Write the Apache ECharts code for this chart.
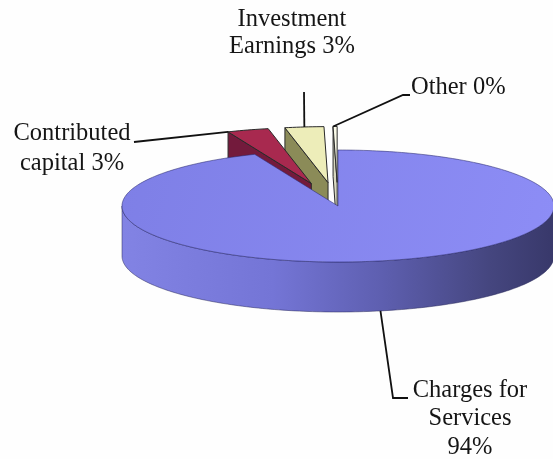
<!DOCTYPE html>
<html>
<head>
<meta charset="utf-8">
<script src="https://cdn.jsdelivr.net/npm/echarts@6/dist/echarts.min.js"></script>
<style>
html, body { margin: 0; padding: 0; background: #fff; }
#chart { width: 553px; height: 459px; }
</style>
</head>
<body>
<div id="chart"></div>
<script>
// slices, clockwise from 12 o'clock
const names = ['Charges for Services', 'Contributed capital', 'Investment Earnings', 'Other'];
const values = [93.7, 3.1, 2.9, 0.3];
const labelNames = ['Charges for\nServices', 'Contributed\ncapital', 'Investment\nEarnings', 'Other'];
const labelSep = ['\n', ' ', ' ', ' '];
const exploded = [0, 1, 1, 1];

const topColors = ['#8383ec', '#a8294f', '#ededb9', '#fafae8'];
const sideColors = ['#6f6fd0', '#731a3c', '#8b8b58', '#d8d8c0'];

// 3d pie geometry (flattened ellipse + wall)
const cx = 338, cy = 206, rx = 216, ry = 56, depth = 50, explodeBy = 0.42;

// where each label sits and how its leader line bends
const labelLayout = [
  { x: 470, y: 376, align: 'center', lh: 28.5, anchor: 'wall', elbow: [[393, 398], [408, 398]] },
  { x: 72, y: 119, align: 'center', lh: 30, anchor: 'start', elbow: [[134, 142]] },
  { x: 292, y: 6, align: 'center', lh: 27, anchor: 'mid', elbow: [[304, 92]] },
  { x: 411, y: 74, align: 'left', lh: 28, anchor: 'start', elbow: [[403, 95], [410, 95]] }
];

const total = values.reduce((a, b) => a + b, 0);
const slices = [];
let acc = 0;
values.forEach((v, i) => {
  const a0 = acc / total * 2 * Math.PI;
  acc += v;
  const a1 = acc / total * 2 * Math.PI;
  const mid = (a0 + a1) / 2;
  slices.push({
    a0, a1, mid,
    ox: exploded[i] ? explodeBy * rx * Math.sin(mid) : 0,
    oy: exploded[i] ? -explodeBy * ry * Math.cos(mid) : 0,
    pct: Math.round(v / total * 100)
  });
});

function pt(s, a, dy) {
  return [cx + s.ox + rx * Math.sin(a), cy + s.oy - ry * Math.cos(a) + (dy || 0)];
}
function arc(s, from, to, dy) {
  const n = Math.max(2, Math.ceil(Math.abs(to - from) / 0.02));
  const out = [];
  for (let k = 0; k <= n; k++) out.push(pt(s, from + (to - from) * k / n, dy));
  return out;
}

function renderItem(params, api) {
  const i = params.dataIndex;
  const s = slices[i];
  const z = Math.round((1 - Math.cos(s.mid)) * 100) * 10;
  const tip = [cx + s.ox, cy + s.oy];
  const children = [];

  // outer wall, front half only
  const w0 = Math.max(s.a0, Math.PI / 2), w1 = Math.min(s.a1, 3 * Math.PI / 2);
  if (w1 > w0) {
    children.push({
      type: 'polygon', z2: z,
      shape: { points: arc(s, w0, w1, 0).concat(arc(s, w1, w0, depth)) },
      style: {
        fill: i === 0 ? new echarts.graphic.LinearGradient(0, 0, 1, 0, [
          { offset: 0, color: '#8283e4' },
          { offset: 0.35, color: '#7475d6' },
          { offset: 0.6, color: '#5e5fb0' },
          { offset: 0.85, color: '#45467f' },
          { offset: 1, color: '#38386a' }
        ]) : sideColors[i],
        stroke: 'rgba(40,40,90,0.5)', lineWidth: 1
      }
    });
  }

  // cut faces facing the viewer
  [[s.a0, Math.sin(s.a0) < -1e-6], [s.a1, Math.sin(s.a1) > 1e-6]].forEach(([a, vis]) => {
    if (!vis) return;
    const r = pt(s, a, 0);
    children.push({
      type: 'polygon', z2: z + 1,
      shape: { points: [tip, r, [r[0], r[1] + depth], [tip[0], tip[1] + depth]] },
      style: { fill: sideColors[i], stroke: '#2a2a2a', lineWidth: 1 }
    });
  });

  // top face
  children.push({
    type: 'polygon', z2: z + 5,
    shape: { points: [tip].concat(arc(s, s.a0, s.a1, 0)) },
    style: {
      fill: i === 0 ? new echarts.graphic.LinearGradient(0, 0, 1, 1, [
        { offset: 0, color: '#7e7fe6' },
        { offset: 1, color: '#8d8df6' }
      ]) : topColors[i],
      stroke: i === 0 ? 'rgba(40,40,110,0.55)' : '#2a2a2a',
      lineWidth: 1
    }
  });

  // label + leader line
  const lay = labelLayout[i];
  let anchor;
  if (lay.anchor === 'wall') anchor = pt(s, s.mid, depth);
  else if (lay.anchor === 'mid') anchor = pt(s, s.mid, 0);
  else anchor = pt(s, s.a0, 0);
  children.push({
    type: 'polyline', z2: 9000,
    shape: { points: [anchor].concat(lay.elbow) },
    style: { stroke: '#111', lineWidth: 1.8, fill: null }
  });
  children.push({
    type: 'text', z2: 10000,
    style: {
      text: labelNames[i] + labelSep[i] + s.pct + '%',
      x: lay.x, y: lay.y,
      align: lay.align, verticalAlign: 'top',
      fontSize: 24.5,
      fontFamily: '"Liberation Serif", "Times New Roman", "DejaVu Serif", serif',
      lineHeight: lay.lh,
      fill: '#151515'
    }
  });

  return { type: 'group', children };
}

const chart = echarts.init(document.getElementById('chart'));
chart.setOption({
  backgroundColor: '#fefefe',
  animation: false,
  series: [{
    type: 'custom',
    coordinateSystem: 'none',
    renderItem: renderItem,
    data: values.map((v, i) => ({ name: names[i], value: v }))
  }]
});
</script>
</body>
</html>
